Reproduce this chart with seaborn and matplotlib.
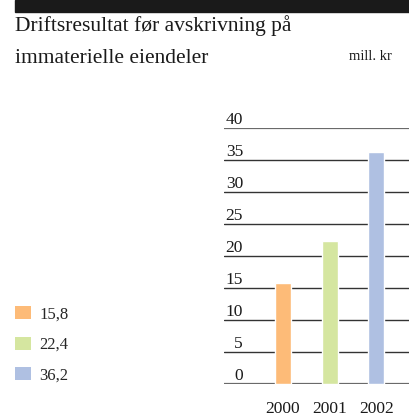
import matplotlib
matplotlib.use("Agg")
import matplotlib.pyplot as plt
from matplotlib.patches import Patch, Rectangle
import seaborn as sns
import pandas as pd

years = ["2000", "2001", "2002"]
values = [15.8, 22.4, 36.2]
value_labels = ["15,8", "22,4", "36,2"]
colors = ["#FDBB78", "#D5E6A0", "#AFC0E2"]
yticks = [0, 5, 10, 15, 20, 25, 30, 35, 40]
title_lines = ["Driftsresultat før avskrivning på", "immaterielle eiendeler"]
unit = "mill. kr"

sns.set_theme(style="white")
plt.rcParams["font.family"] = ["Liberation Serif", "DejaVu Serif"]

W, H = 410, 416
fig = plt.figure(figsize=(W / 100, H / 100), dpi=100)

def fx(px):
    return px / W

def fy(py):
    return 1 - py / H

ax = fig.add_axes([fx(224), fy(384), fx(410) - fx(224), fy(128) - fy(384)])

df = pd.DataFrame({"year": years, "value": values})
sns.barplot(data=df, x="year", y="value", hue="year", palette=colors,
            width=0.342, legend=False, ax=ax, saturation=1)
for p in ax.patches:
    p.set_zorder(3)

ax.set_xlim(-1.262, 2.717)
ax.set_ylim(0, 40)
ax.set_yticks(yticks)
ax.set_yticklabels([str(t) for t in yticks])
ax.set_xlabel("")
ax.set_ylabel("")
for s in ax.spines.values():
    s.set_visible(False)
ax.set_axisbelow(True)
ax.yaxis.grid(True, color="#333333", linewidth=1.0, zorder=1)
ax.xaxis.grid(False)
for t, line in zip(yticks, ax.yaxis.get_gridlines()):
    if t in (0, 40):
        line.set_color("#6a6a6a")
        line.set_linewidth(1.6)

ax.tick_params(axis="y", length=0, pad=-19 * 0.72, labelsize=12.5, colors="#1a1a1a")
for lab in ax.get_yticklabels():
    lab.set_horizontalalignment("right")
    lab.set_verticalalignment("bottom")
ax.tick_params(axis="x", length=0, pad=17 * 0.72, labelsize=12.5, colors="#1a1a1a")
for lab in ax.get_xticklabels():
    lab.set_verticalalignment("top")

# top black bar
fig.patches.append(Rectangle((fx(15), fy(12)), fx(410) - fx(15), fy(0) - fy(12),
                             transform=fig.transFigure, color="#1a1a1a", zorder=5))

fig.text(fx(15), fy(31), title_lines[0], ha="left", va="baseline", fontsize=15.5,
         color="#1a1a1a")
fig.text(fx(15), fy(63), title_lines[1], ha="left", va="baseline", fontsize=15.5,
         color="#1a1a1a")
fig.text(fx(392), fy(60), unit, ha="right", va="baseline", fontsize=10.5,
         color="#1a1a1a")

handles = [Patch(facecolor=c, edgecolor="none") for c in colors]
fig.legend(handles, value_labels, loc="upper left",
           bbox_to_anchor=(fx(15), fy(306)), frameon=False, fontsize=12,
           handlelength=0.96, handleheight=0.84, handletextpad=0.5,
           labelspacing=0.85, borderpad=0, borderaxespad=0)

fig.savefig("out.png", dpi=100)
